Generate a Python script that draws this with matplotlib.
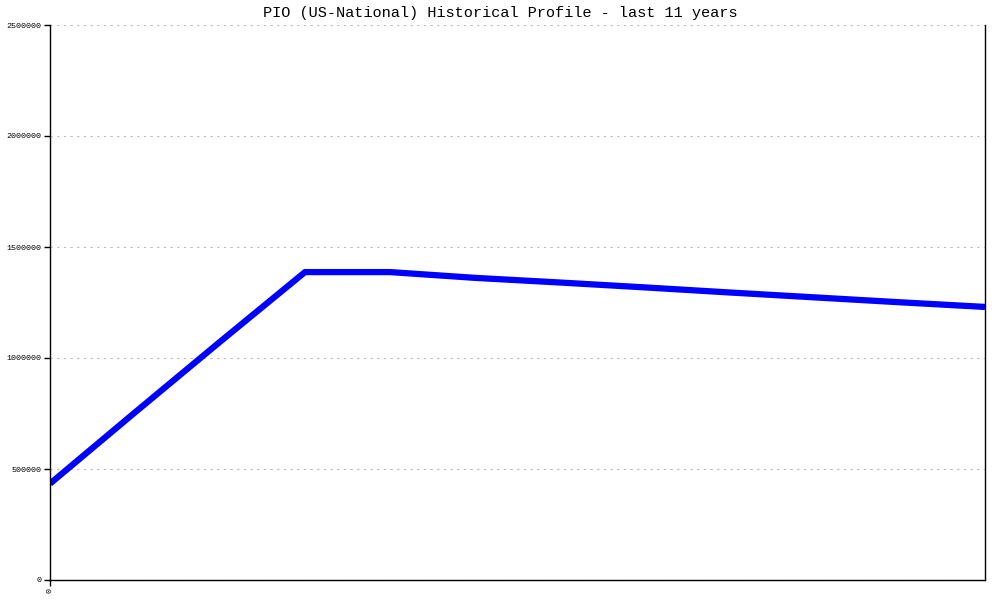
import matplotlib
matplotlib.use("Agg")
import matplotlib.pyplot as plt

# yearly values
years = list(range(12))
values = [434000, 755000, 1073000, 1387000, 1387000, 1361000,
          1340000, 1318000, 1295000, 1273000, 1251000, 1230000]
y_ticks = [0, 500000, 1000000, 1500000, 2000000, 2500000]
x_ticks = [0]

fig = plt.figure(figsize=(10, 6), dpi=100)
ax = fig.add_axes([0.05, 1 - 580 / 600, 0.935, 555 / 600])

ax.plot(years, values, color="#0000FF", linewidth=4.5, solid_capstyle="butt")

ax.set_xlim(0, 11)
ax.set_ylim(0, 2500000)
ax.set_yticks(y_ticks)
ax.set_yticklabels([str(v) for v in y_ticks], fontsize=6, family="Liberation Mono")
ax.set_xticks(x_ticks)
ax.set_xticklabels([str(v) for v in x_ticks], fontsize=6, family="Liberation Mono", rotation=90)
ax.tick_params(length=4, width=1, color="black", pad=2)

ax.grid(True, axis="y", linestyle=(0, (2, 4)), color="#bbbbbb", linewidth=0.8)
ax.set_axisbelow(True)
ax.spines["top"].set_visible(False)
for s in ("left", "bottom", "right"):
    ax.spines[s].set_linewidth(1)
    ax.spines[s].set_color("black")

fig.text(0.5, 1 - 13 / 600, "PIO (US-National) Historical Profile - last 11 years",
         ha="center", va="center", fontsize=11, family="Liberation Mono")

fig.savefig("out.png", dpi=100)
